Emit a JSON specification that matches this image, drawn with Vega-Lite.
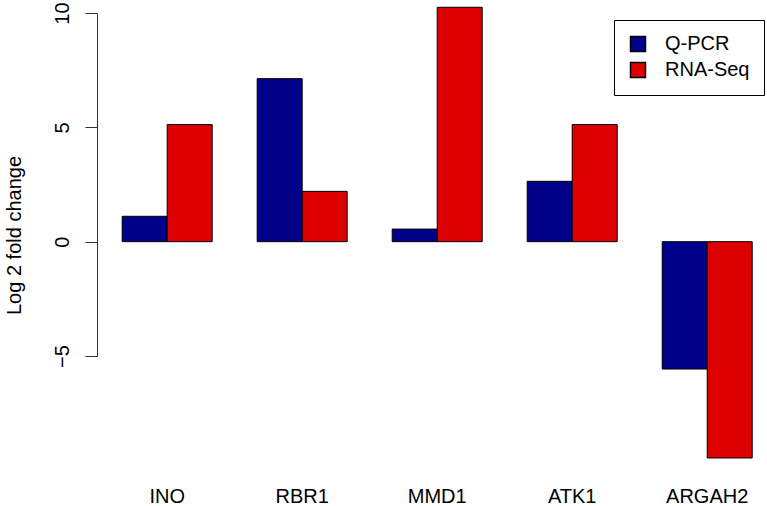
{
  "$schema": "https://vega.github.io/schema/vega-lite/v6.json",
  "width": 670,
  "height": 343,
  "autosize": {"type": "none"},
  "padding": {"left": 97, "top": 13, "right": 0, "bottom": 150},
  "background": "white",
  "config": {
    "view": {"stroke": null},
    "font": "Liberation Sans",
    "legend": {"strokeColor": "black", "fillColor": "white", "padding": 14}
  },
  "data": {
    "values": [
      {"gene": "INO", "method": "Q-PCR", "value": 1.11},
      {"gene": "INO", "method": "RNA-Seq", "value": 5.12},
      {"gene": "RBR1", "method": "Q-PCR", "value": 7.13},
      {"gene": "RBR1", "method": "RNA-Seq", "value": 2.2},
      {"gene": "MMD1", "method": "Q-PCR", "value": 0.55},
      {"gene": "MMD1", "method": "RNA-Seq", "value": 10.25},
      {"gene": "ATK1", "method": "Q-PCR", "value": 2.64},
      {"gene": "ATK1", "method": "RNA-Seq", "value": 5.12},
      {"gene": "ARGAH2", "method": "Q-PCR", "value": -5.57},
      {"gene": "ARGAH2", "method": "RNA-Seq", "value": -9.46}
    ]
  },
  "mark": {"type": "bar", "stroke": "black"},
  "encoding": {
    "x": {
      "field": "gene",
      "type": "nominal",
      "sort": ["INO", "RBR1", "MMD1", "ATK1", "ARGAH2"],
      "scale": {"paddingInner": 0.3333, "paddingOuter": 0.148, "align": 0.63},
      "axis": {
        "title": null,
        "orient": "bottom",
        "domain": false,
        "ticks": false,
        "tickSize": 0,
        "labelAngle": 0,
        "labelFontSize": 20,
        "labelColor": "black",
        "labelPadding": 130,
        "labelBaseline": "top"
      }
    },
    "xOffset": {
      "field": "method",
      "type": "nominal",
      "sort": ["Q-PCR", "RNA-Seq"],
      "scale": {"paddingInner": 0, "paddingOuter": 0}
    },
    "y": {
      "field": "value",
      "type": "quantitative",
      "scale": {"domain": [-5, 10], "nice": false, "zero": true},
      "axis": {
        "title": "Log 2 fold change",
        "titleFontSize": 20,
        "titleFontWeight": "normal",
        "titleColor": "black",
        "titleX": -77,
        "titleY": 222,
        "titleAngle": -90,
        "titleAlign": "center",
        "titleBaseline": "alphabetic",
        "values": [-5, 0, 5, 10],
        "grid": false,
        "domainColor": "#333333",
        "tickColor": "#333333",
        "tickSize": 12,
        "labelAngle": -90,
        "labelAlign": "center",
        "labelBaseline": "alphabetic",
        "labelPadding": 17,
        "labelFontSize": 20,
        "labelColor": "black"
      }
    },
    "fill": {
      "field": "method",
      "type": "nominal",
      "sort": ["Q-PCR", "RNA-Seq"],
      "scale": {"domain": ["Q-PCR", "RNA-Seq"], "range": ["#00008B", "#DD0000"]},
      "legend": {
        "title": null,
        "orient": "none",
        "legendX": 517,
        "legendY": 7,
        "symbolType": "square",
        "symbolSize": 225,
        "symbolStrokeColor": "black",
        "labelFontSize": 20,
        "labelColor": "black",
        "labelOffset": 17,
        "rowPadding": 4
      }
    }
  }
}
